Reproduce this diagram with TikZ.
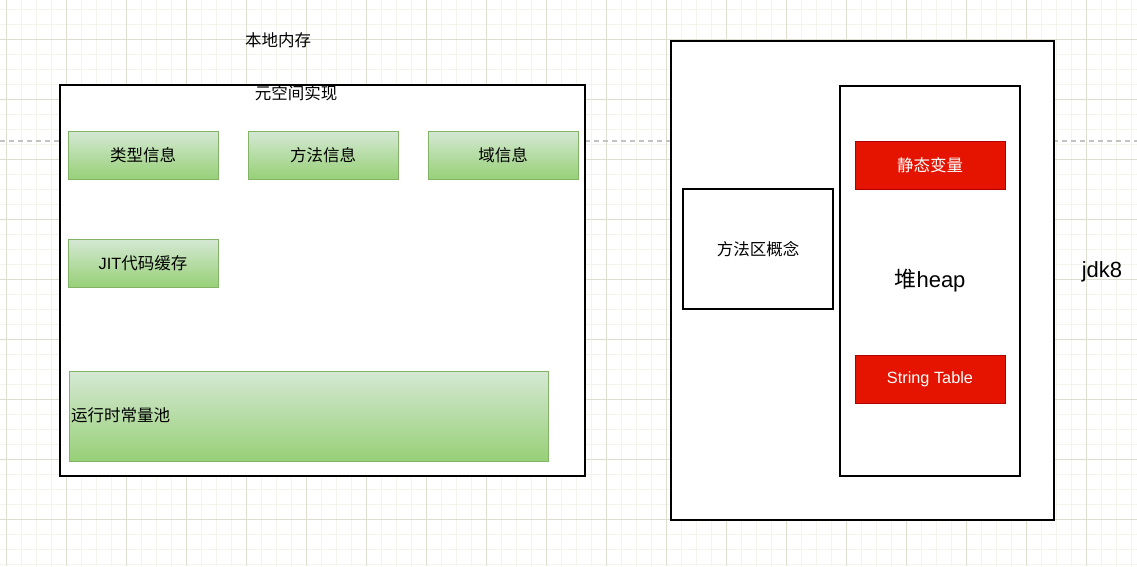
\documentclass[tikz,border=0pt]{standalone}
\usepackage{fontspec}
\setmainfont{Liberation Sans}
\newfontfamily\cjk{Noto Sans CJK SC}
\definecolor{gridmajor}{RGB}{221,221,208}
\definecolor{gridminor}{RGB}{244,244,236}
\definecolor{dashgray}{RGB}{195,195,195}
\definecolor{greentop}{RGB}{213,232,212}
\definecolor{greenbot}{RGB}{151,208,119}
\definecolor{greenline}{RGB}{130,179,102}
\definecolor{redfill}{RGB}{229,20,0}
\definecolor{redline}{RGB}{178,0,0}
\tikzset{
  box/.style={draw=black,line width=1.3pt,fill=white,inner sep=0pt,outer sep=0pt},
  greenbox/.style={draw=greenline,line width=1pt,top color=greentop,bottom color=greenbot,
    inner sep=0pt,outer sep=0pt,font=\cjk\fontsize{16.5}{19}\selectfont},
  redbox/.style={draw=redline,line width=1pt,fill=redfill,text=white,
    inner sep=0pt,outer sep=0pt,minimum width=150pt,minimum height=48pt,font=\fontsize{16.3}{19}\selectfont},
  lbl/.style={inner sep=0pt,font=\cjk\fontsize{16.5}{19}\selectfont},
}
\begin{document}
\begin{tikzpicture}[x=1pt,y=-1pt]
\useasboundingbox (0,0) rectangle (1137,566);
\fill[white] (0,0) rectangle (1137,566);
% grid
\foreach \i in {0,...,75} {\draw[gridminor,line width=0.8pt] (6.7+15*\i,0) -- (6.7+15*\i,566);}
\foreach \j in {0,...,37} {\draw[gridminor,line width=0.8pt] (0,9.3+15*\j) -- (1137,9.3+15*\j);}
\foreach \i in {0,...,18} {\draw[gridmajor,line width=0.9pt] (6.7+60*\i,0) -- (6.7+60*\i,566);}
\foreach \j in {0,...,9} {\draw[gridmajor,line width=0.9pt] (0,39.3+60*\j) -- (1137,39.3+60*\j);}
% dashed line
\coordinate (dl) at (0,141);
\coordinate (dr) at (1137,141);
\draw[dashgray,line width=1.1pt,dash pattern=on 5pt off 4pt] (dl) -- (dr);
% left outer box
\node[box,minimum width=525pt,minimum height=391pt] (meta) at (322.5,280.5) {};
\node[lbl] (native) at (278,40.5) {本地内存};
\node[lbl] (metalbl) at (296,93.5) {元空间实现};
\node[greenbox,minimum width=150pt,minimum height=48pt] (type) at (143,155) {类型信息};
\node[greenbox,minimum width=150pt,minimum height=48pt] (method) at (323,155) {方法信息};
\node[greenbox,minimum width=150pt,minimum height=48pt] (field) at (503,155) {域信息};
\node[greenbox,minimum width=150pt,minimum height=48pt,font=\fontsize{16.3}{19}\selectfont] (jit) at (143,263) {JIT{\cjk\fontsize{16.5}{19}\selectfont 代码缓存}};
\node[greenbox,minimum width=479pt,minimum height=90pt] (pool) at (308.5,416) {};
\node[lbl,anchor=west] (poollbl) at (71,415) {运行时常量池};
% right side
\node[box,minimum width=383pt,minimum height=479pt] (jdk) at (862.5,280.5) {};
\node[box,minimum width=150pt,minimum height=120pt,font=\cjk\fontsize{16.5}{19}\selectfont] (concept) at (758,249) {方法区概念};
\node[box,minimum width=180pt,minimum height=390pt] (heap) at (930,281) {};
\node[inner sep=0pt,font=\fontsize{22}{25}\selectfont] (heaplbl) at (930,281) {{\cjk 堆}heap};
\node[redbox,font=\cjk\fontsize{16.5}{19}\selectfont] (static) at (930,165) {静态变量};
\node[redbox] (strtab) at (930,379) {String Table};
\node[inner sep=0pt,font=\fontsize{22}{25}\selectfont] (jdklbl) at (1102,272) {jdk8};
\end{tikzpicture}
\end{document}
